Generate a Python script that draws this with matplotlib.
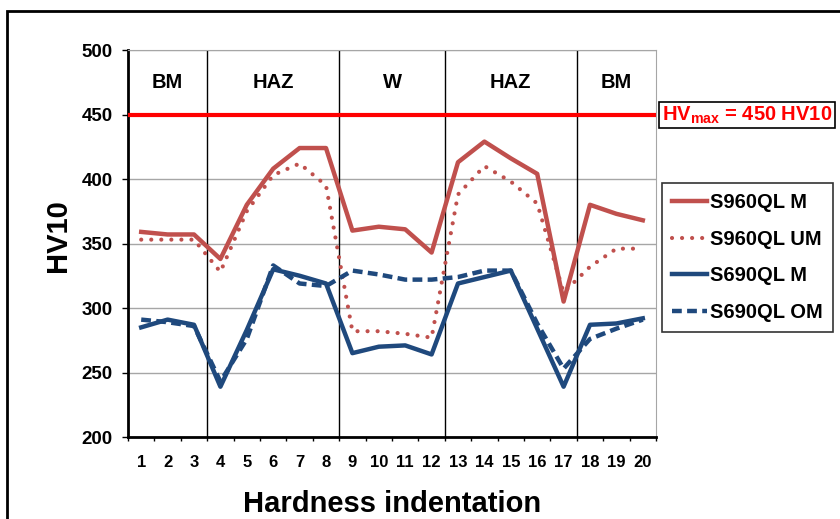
import matplotlib
matplotlib.use('Agg')
import matplotlib.pyplot as plt
from matplotlib.patches import Rectangle

plt.rcParams['font.family'] = ['Liberation Sans', 'DejaVu Sans']
plt.rcParams['font.weight'] = 'bold'
plt.rcParams['mathtext.fontset'] = 'custom'
plt.rcParams['mathtext.rm'] = 'Liberation Sans:bold'
plt.rcParams['mathtext.bf'] = 'Liberation Sans:bold'
plt.rcParams['mathtext.default'] = 'bf'

# hardness values per indentation
indent = list(range(1, 21))
s960_m = [359, 357, 357, 338, 380, 408, 424, 424, 360, 363,
          361, 343, 413, 429, 416, 404, 305, 380, 373, 368]
s960_um = [353, 353, 353, 328, 375, 403, 412, 395, 282, 282,
           280, 277, 388, 410, 398, 381, 312, 332, 346, 346]
s690_m = [285, 291, 287, 239, 283, 330, 325, 319, 265, 270,
          271, 264, 319, 324, 329, 284, 239, 287, 288, 292]
s690_om = [291, 289, 286, 243, 276, 333, 319, 317, 329, 326,
           322, 322, 324, 329, 329, 288, 253, 276, 284, 291]

hv_max = 450
zones = ['BM', 'HAZ', 'W', 'HAZ', 'BM']
zone_mid = [2, 6, 10.5, 15, 19]
zone_edges = [3.5, 8.5, 12.5, 17.5]

red = '#C0504D'
blue = '#1F497D'

fig = plt.figure(figsize=(8.4, 5.19), dpi=100)
ax = fig.add_axes([128/840, 1 - 437/519, 528/840, 387/519])

ax.plot(indent, s960_m, color=red, lw=3.2, label='S960QL M', zorder=4)
ax.plot(indent, s960_um, color=red, lw=3.0, linestyle=(0, (0.01, 2.4)),
        dash_capstyle='round', label='S960QL UM', zorder=4)
ax.plot(indent, s690_m, color=blue, lw=3.2, label='S690QL M', zorder=5)
ax.plot(indent, s690_om, color=blue, lw=3.2, linestyle=(0, (2.2, 1.2)),
        label='S690QL OM', zorder=5)

ax.axhline(hv_max, color='#FF0000', lw=3, zorder=3)
for xe in zone_edges:
    ax.axvline(xe, color='black', lw=1, zorder=2)
for name, xm in zip(zones, zone_mid):
    ax.text(xm, 474.8, name, ha='center', va='center', fontsize=14.5, fontweight='bold')

ax.set_xlim(0.5, 20.5)
ax.set_ylim(200, 500)
ax.set_yticks(range(200, 501, 50))
ax.set_xticks(indent)
ax.set_xticks([i + 0.5 for i in range(0, 21)], minor=True)
ax.tick_params(axis='x', which='major', length=0, pad=13, labelsize=12)
ax.tick_params(axis='x', which='minor', length=3, width=1)
ax.tick_params(axis='y', length=4, width=1, pad=7, labelsize=13.5)
for lab in ax.get_xticklabels() + ax.get_yticklabels():
    lab.set_fontweight('bold')
ax.grid(axis='y', color='#A6A6A6', lw=1)
ax.set_axisbelow(True)
ax.spines['left'].set_linewidth(2)
ax.spines['bottom'].set_linewidth(2)
ax.spines['top'].set_color('#A6A6A6')
ax.spines['right'].set_color('#A6A6A6')

ax.set_xlabel('Hardness indentation', fontsize=21, fontweight='bold', labelpad=14)
ax.set_ylabel('HV10', fontsize=21, fontweight='bold')
ax.yaxis.set_label_coords(-56/528, 0.52)

fig.text(747/840, 1 - 115/519, r'HV$_{max}$ = 450 HV10', color='#FF0000',
         fontsize=14.5, fontweight='bold', ha='center', va='center',
         bbox=dict(boxstyle='square,pad=0.12', fc='white', ec='black', lw=1.2))

leg = ax.legend(loc='upper left', bbox_to_anchor=(662/840, 1 - 183/519),
                bbox_transform=fig.transFigure, fontsize=14.5, handlelength=1.75,
                labelspacing=0.87, borderaxespad=0, frameon=True, fancybox=False,
                handletextpad=0.15, borderpad=0.5)
leg.get_frame().set_edgecolor('black')
leg.get_frame().set_linewidth(1.2)
for t in leg.get_texts():
    t.set_fontweight('bold')

# outer frame around the whole chart
fig.patches.append(Rectangle((7/840, -0.1), 1.2, 1 - 11/519 + 0.1,
                             transform=fig.transFigure, fill=False,
                             ec='black', lw=2))

fig.savefig('out.png', dpi=100)
